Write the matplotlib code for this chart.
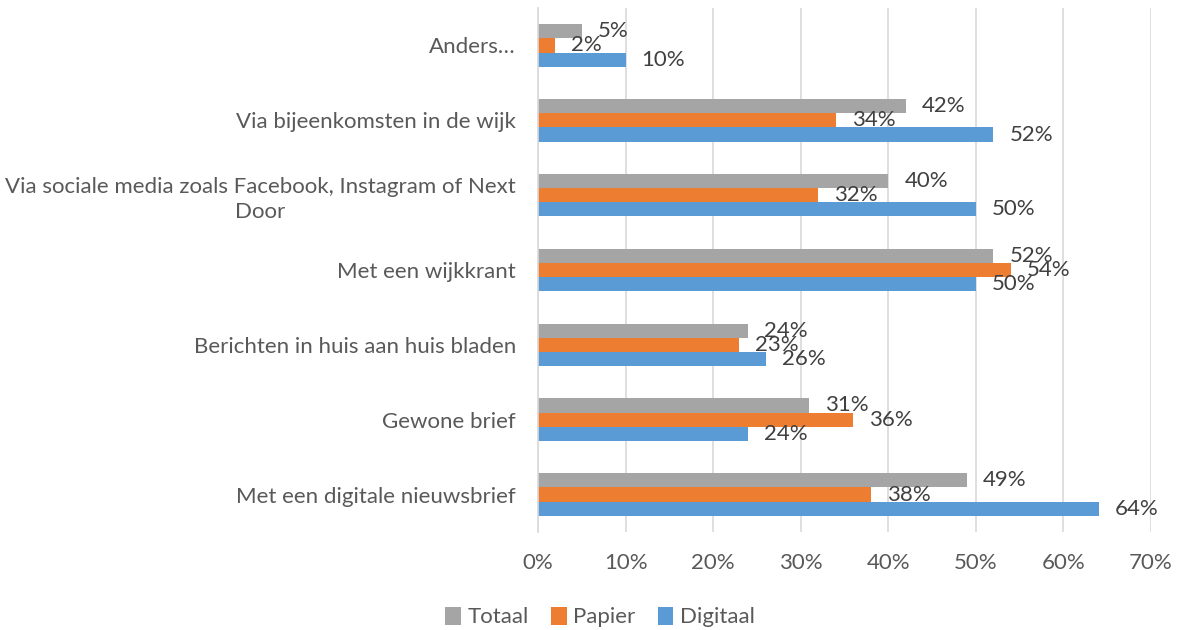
import matplotlib
matplotlib.use("Agg")
import matplotlib.pyplot as plt
from matplotlib.patches import Patch
import numpy as np

# categories listed bottom to top, as they appear on the axis
categories = [
    "Met een digitale nieuwsbrief",
    "Gewone brief",
    "Berichten in huis aan huis bladen",
    "Met een wijkkrant",
    "Via sociale media zoals Facebook, Instagram of Next\nDoor",
    "Via bijeenkomsten in de wijk",
    "Anders\u2026",
]
totaal = [49, 31, 24, 52, 40, 42, 5]
papier = [38, 36, 23, 54, 32, 34, 2]
digitaal = [64, 24, 26, 50, 50, 52, 10]

series_names = ["Totaal", "Papier", "Digitaal"]
series_colors = ["#A5A5A5", "#ED7D31", "#5B9BD5"]
x_ticks = [0, 10, 20, 30, 40, 50, 60, 70]

plt.rcParams["font.family"] = ["Lato", "DejaVu Sans"]
FS = 16

fig = plt.figure(figsize=(11.79, 6.30), dpi=100)
ax = fig.add_axes([0.4563, 0.1556, 0.5200, 0.8317])

y = np.arange(len(categories))
h = 0.19
offsets = [h, 0, -h]
for vals, off, col in zip([totaal, papier, digitaal], offsets, series_colors):
    ax.barh(y + off, vals, height=h, color=col, zorder=2)
    for yi, v in zip(y, vals):
        ax.annotate(f"{v}%", xy=(v, yi + off), xytext=(16, 0),
                    textcoords="offset pixels", ha="left", va="center",
                    fontsize=FS, color="#404040", zorder=3)

ax.set_xlim(0, 70)
ax.set_ylim(-0.5, len(categories) - 0.5)
ax.set_xticks(x_ticks)
ax.set_xticklabels([f"{t}%" for t in x_ticks])
ax.set_yticks(y)
ax.set_yticklabels(categories)
for t in ax.get_yticklabels():
    t.set_multialignment("center")
    t.set_linespacing(1.3)

ax.tick_params(axis="both", length=0, labelsize=FS, labelcolor="#595959")
ax.tick_params(axis="x", pad=15)
ax.tick_params(axis="y", pad=16)

ax.grid(axis="x", color="#D9D9D9", linewidth=1.2, zorder=0)
for s in ["top", "right", "bottom"]:
    ax.spines[s].set_visible(False)
ax.spines["left"].set_color("#D9D9D9")
ax.spines["left"].set_linewidth(1.2)
ax.spines["left"].set_zorder(2.5)

handles = [Patch(facecolor=c, label=n) for n, c in zip(series_names, series_colors)]
fig.legend(handles=handles, loc="center", bbox_to_anchor=(0.509, 0.0206), ncol=3,
           frameon=False, fontsize=FS, labelcolor="#595959",
           handlelength=0.7, handleheight=0.9, handletextpad=0.3,
           columnspacing=1.0)

fig.savefig("out.png", dpi=100)
